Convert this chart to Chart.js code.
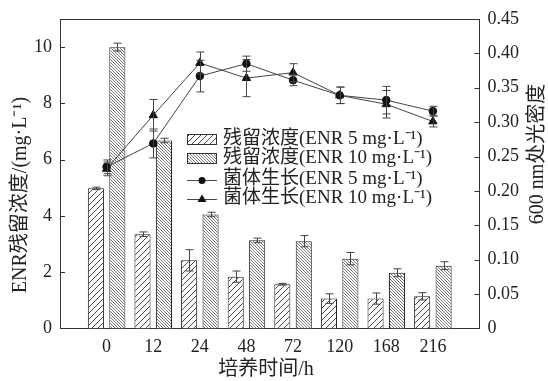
<!DOCTYPE html>
<html>
<head>
<meta charset="utf-8">
<title>ENR residue and growth</title>
<script src="https://cdn.jsdelivr.net/npm/chart.js"></script>
<style>
    html, body { margin: 0; padding: 0; background: #fff; }
    #wrap { width: 548px; height: 381px; }
</style>
</head>
<body>
<div id="wrap"><canvas id="chart" width="548" height="381"></canvas></div>
<script>
    // culture time categories
    const hours = ['0', '12', '24', '48', '72', '120', '168', '216'];

    // residual ENR (mg/L), left axis
    const residue5 = [4.98, 3.35, 2.42, 1.84, 1.57, 1.06, 1.06, 1.14];
    const residue5Err = [0.04, 0.08, 0.38, 0.20, 0.03, 0.17, 0.20, 0.13];
    const residue10 = [10.0, 6.68, 4.05, 3.13, 3.10, 2.48, 1.98, 2.23];
    const residue10Err = [0.14, 0.08, 0.08, 0.08, 0.20, 0.22, 0.14, 0.14];

    // OD600, right axis
    const growth5 = [0.235, 0.269, 0.367, 0.385, 0.361, 0.339, 0.332, 0.316];
    const growth5Err = [0.010, 0.021, 0.023, 0.011, 0.008, 0.012, 0.020, 0.007];
    const growth10 = [0.232, 0.310, 0.386, 0.364, 0.372, 0.339, 0.326, 0.301];
    const growth10Err = [0.010, 0.023, 0.016, 0.027, 0.013, 0.012, 0.020, 0.008];

    const leftTicks = [0, 2, 4, 6, 8, 10];
    const rightTicks = [0, 0.05, 0.10, 0.15, 0.20, 0.25, 0.30, 0.35, 0.40, 0.45];

    const serif = "'Liberation Serif', 'Noto Sans CJK SC', serif";

    function hatch(size, slash, color, lw) {
        const c = document.createElement('canvas');
        c.width = c.height = size;
        const g = c.getContext('2d');
        g.fillStyle = '#fff';
        g.fillRect(0, 0, size, size);
        g.strokeStyle = color;
        g.lineWidth = lw;
        g.beginPath();
        if (slash) {
            g.moveTo(0, size); g.lineTo(size, 0);
            g.moveTo(-1, 1); g.lineTo(1, -1);
            g.moveTo(size - 1, size + 1); g.lineTo(size + 1, size - 1);
        } else {
            g.moveTo(0, 0); g.lineTo(size, size);
            g.moveTo(size - 1, -1); g.lineTo(size + 1, 1);
            g.moveTo(-1, size - 1); g.lineTo(1, size + 1);
        }
        g.stroke();
        return document.createElement('canvas').getContext('2d').createPattern(c, 'repeat');
    }

    const sparse = hatch(6, true, '#333', 0.9);
    const dense = hatch(3, false, '#555', 0.8);

    const toPoints = arr => arr.map((v, i) => ({ x: i, y: v }));

    // error bars, inward ticks, top frame, titles and legend
    const extras = {
        id: 'extras',
        afterDatasetsDraw(chart) {
            const ctx = chart.ctx;
            ctx.save();
            ctx.strokeStyle = '#444';
            ctx.lineWidth = 1;
            chart.data.datasets.forEach((ds, i) => {
                const meta = chart.getDatasetMeta(i);
                const scale = chart.scales[meta.yAxisID];
                meta.data.forEach((el, j) => {
                    const v = ds.data[j].y, e = ds.errors[j];
                    const yt = scale.getPixelForValue(v + e);
                    const yb = scale.getPixelForValue(v - e);
                    const x = Math.round(el.x) + 0.5;
                    ctx.beginPath();
                    ctx.moveTo(x, yt); ctx.lineTo(x, yb);
                    ctx.moveTo(x - 4, yt); ctx.lineTo(x + 4, yt);
                    ctx.moveTo(x - 4, yb); ctx.lineTo(x + 4, yb);
                    ctx.stroke();
                });
            });
            ctx.restore();
        },
        afterDraw(chart) {
            const ctx = chart.ctx;
            const a = chart.chartArea;
            const yl = chart.scales.y, yr = chart.scales.y1;
            ctx.save();
            ctx.strokeStyle = '#333';
            ctx.lineWidth = 1;
            ctx.beginPath();
            ctx.moveTo(a.left, a.top + 0.5); ctx.lineTo(a.right, a.top + 0.5);
            leftTicks.forEach(t => {
                const p = Math.round(yl.getPixelForValue(t)) + 0.5;
                ctx.moveTo(a.left, p); ctx.lineTo(a.left + 5, p);
            });
            rightTicks.forEach(t => {
                const p = Math.round(yr.getPixelForValue(t)) + 0.5;
                ctx.moveTo(a.right - 5, p); ctx.lineTo(a.right, p);
            });
            ctx.stroke();

            // axis titles
            ctx.fillStyle = '#222';
            ctx.font = '20px ' + serif;
            ctx.textAlign = 'center';
            ctx.textBaseline = 'middle';
            ctx.save();
            ctx.translate(21, 195);
            ctx.rotate(-Math.PI / 2);
            ctx.fillText('ENR残留浓度/(mg·L⁻¹)', 0, 0);
            ctx.restore();
            ctx.save();
            ctx.translate(538, 154);
            ctx.rotate(-Math.PI / 2);
            ctx.fillText('600 nm处光密度', 0, 0);
            ctx.restore();
            ctx.fillText('培养时间/h', 266, 370);

            // legend
            const lx = 187, tx = 223;
            const rows = [139, 158, 179, 198];
            ctx.font = '19px ' + serif;
            ctx.textAlign = 'left';
            const names = ['残留浓度(ENR 5 mg·L⁻¹)', '残留浓度(ENR 10 mg·L⁻¹)',
                '菌体生长(ENR 5 mg·L⁻¹)', '菌体生长(ENR 10 mg·L⁻¹)'];
            [sparse, dense].forEach((pat, k) => {
                ctx.fillStyle = pat;
                ctx.fillRect(lx, rows[k] - 5, 30, 10);
                ctx.strokeRect(lx + 0.5, rows[k] - 5 + 0.5, 29, 10);
            });
            ctx.strokeStyle = '#444';
            ctx.beginPath();
            ctx.moveTo(lx, rows[2] + 1.5); ctx.lineTo(lx + 30, rows[2] + 1.5);
            ctx.moveTo(lx, rows[3] + 1.5); ctx.lineTo(lx + 30, rows[3] + 1.5);
            ctx.stroke();
            ctx.fillStyle = '#111';
            ctx.beginPath();
            ctx.arc(lx + 15, rows[2] + 1.5, 3.5, 0, Math.PI * 2);
            ctx.fill();
            ctx.beginPath();
            ctx.moveTo(lx + 15, rows[3] - 3.5);
            ctx.lineTo(lx + 19.5, rows[3] + 4);
            ctx.lineTo(lx + 10.5, rows[3] + 4);
            ctx.closePath();
            ctx.fill();
            ctx.fillStyle = '#222';
            names.forEach((n, k) => ctx.fillText(n, tx, rows[k]));
            ctx.restore();
        }
    };

    new Chart(document.getElementById('chart'), {
        type: 'bar',
        data: {
            datasets: [
                {
                    label: '残留浓度(ENR 5 mg·L⁻¹)', data: toPoints(residue5), errors: residue5Err,
                    backgroundColor: sparse, borderColor: '#222', borderWidth: 1, yAxisID: 'y', order: 2,
                    categoryPercentage: 0.92, barPercentage: 0.75
                },
                {
                    label: '残留浓度(ENR 10 mg·L⁻¹)', data: toPoints(residue10), errors: residue10Err,
                    backgroundColor: dense, borderColor: '#222', borderWidth: 1, yAxisID: 'y', order: 2,
                    categoryPercentage: 0.92, barPercentage: 0.75
                },
                {
                    type: 'line', label: '菌体生长(ENR 5 mg·L⁻¹)', data: toPoints(growth5), errors: growth5Err,
                    yAxisID: 'y1', borderColor: '#444', borderWidth: 1, pointStyle: 'circle',
                    pointRadius: 3.8, pointBackgroundColor: '#111', pointBorderColor: '#111', order: 0
                },
                {
                    type: 'line', label: '菌体生长(ENR 10 mg·L⁻¹)', data: toPoints(growth10), errors: growth10Err,
                    yAxisID: 'y1', borderColor: '#444', borderWidth: 1, pointStyle: 'triangle',
                    pointRadius: 4.8, pointBackgroundColor: '#111', pointBorderColor: '#111', order: 0
                }
            ]
        },
        options: {
            responsive: false,
            animation: false,
            layout: { padding: { left: 26, right: 21, top: 19, bottom: 15 } },
            plugins: { legend: { display: false }, tooltip: { enabled: false } },
            scales: {
                x: {
                    type: 'linear', min: -1, max: 8, offset: false,
                    afterBuildTicks: s => { s.ticks = hours.map((h, i) => ({ value: i })); },
                    ticks: { callback: v => hours[v], color: '#222', font: { family: serif, size: 18 }, padding: 8, maxRotation: 0, autoSkip: false },
                    grid: { display: false, drawTicks: false },
                    border: { display: true, color: '#333', width: 1 }
                },
                y: {
                    position: 'left', min: 0, max: 11,
                    afterBuildTicks: s => { s.ticks = leftTicks.map(v => ({ value: v })); },
                    ticks: { color: '#222', font: { family: serif, size: 18 }, padding: 8 },
                    grid: { display: false, drawTicks: false },
                    border: { display: true, color: '#333', width: 1 }
                },
                y1: {
                    position: 'right', min: 0, max: 0.45,
                    afterBuildTicks: s => { s.ticks = rightTicks.map(v => ({ value: v })); },
                    ticks: { callback: v => v === 0 ? '0' : v.toFixed(2), color: '#222', font: { family: serif, size: 18 }, padding: 8 },
                    grid: { display: false, drawTicks: false },
                    border: { display: true, color: '#333', width: 1 }
                }
            }
        },
        plugins: [extras]
    });
</script>
</body>
</html>
